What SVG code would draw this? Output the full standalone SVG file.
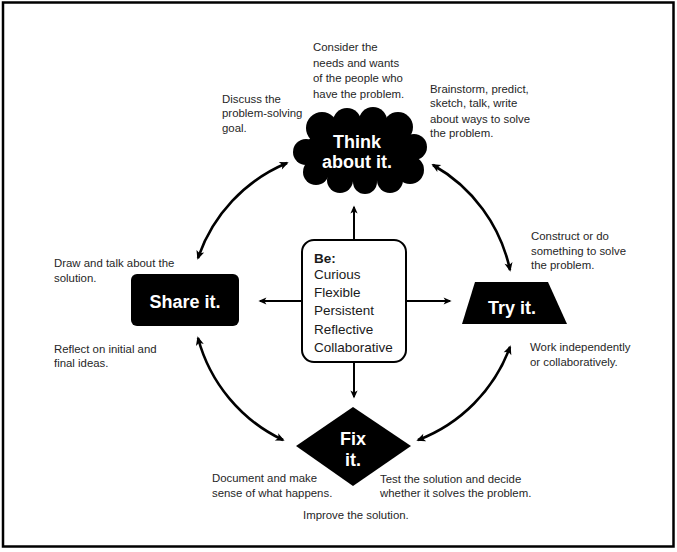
<svg xmlns="http://www.w3.org/2000/svg" width="677" height="552" viewBox="0 0 677 552">
<style>
  .t { font-family: "Liberation Sans", Arial, sans-serif; font-size: 11.4px; fill: #262626; }
  .be { font-family: "Liberation Sans", Arial, sans-serif; font-size: 13.5px; fill: #1a1a1a; }
  .lbl { font-family: "Liberation Sans", Arial, sans-serif; font-size: 18px; font-weight: bold; fill: #ffffff; text-anchor: middle; }
  .shape { fill: #000000; }
  .arc { fill: none; stroke: #000; stroke-width: 2.6; marker-start: url(#ah); marker-end: url(#ah); }
  .str { fill: none; stroke: #000; stroke-width: 2; marker-end: url(#ah2); }
</style>
<defs>
  <marker id="ah" viewBox="0 0 10 10" refX="8" refY="5" markerWidth="10" markerHeight="9" markerUnits="userSpaceOnUse" orient="auto-start-reverse">
    <path d="M0,0.5 L10,5 L0,9.5 L2.5,5 z" fill="#000"/>
  </marker>
  <marker id="ah2" viewBox="0 0 10 10" refX="8" refY="5" markerWidth="9" markerHeight="8" markerUnits="userSpaceOnUse" orient="auto">
    <path d="M0,0.5 L10,5 L0,9.5 L2.5,5 z" fill="#000"/>
  </marker>
</defs>
<rect x="0" y="0" width="677" height="552" fill="#fff"/>
<rect x="3" y="2.5" width="670.5" height="544" fill="none" stroke="#000" stroke-width="2.5"/>

<g id="connectors">
  <path class="arc" d="M198,258 A158,158 0 0 1 287,163"/>
  <path class="arc" d="M433,165 A158,158 0 0 1 510,270"/>
  <path class="arc" d="M510,347 A158,158 0 0 1 418,440"/>
  <path class="arc" d="M283,440 A158,158 0 0 1 198,338"/>
  <path class="str" d="M354,240 L354,207"/>
  <path class="str" d="M302,301 L260,301"/>
  <path class="str" d="M406,301 L450,301"/>
  <path class="str" d="M354,362 L354,397"/>
</g>

<g id="think">
  <g class="shape">
    <ellipse cx="360" cy="152" rx="56" ry="30"/>
    <circle cx="322" cy="128" r="16"/>
    <circle cx="347" cy="122" r="14"/>
    <circle cx="373" cy="121" r="14"/>
    <circle cx="398" cy="127" r="15"/>
    <circle cx="414" cy="147" r="13"/>
    <circle cx="410" cy="170" r="14"/>
    <circle cx="390" cy="180" r="13"/>
    <circle cx="365" cy="182" r="12"/>
    <circle cx="340" cy="180" r="13"/>
    <circle cx="316" cy="172" r="13"/>
    <circle cx="306" cy="152" r="13"/>
  </g>
  <text class="lbl" x="357" y="148">Think</text>
  <text class="lbl" x="357" y="168">about it.</text>
</g>

<g id="share">
  <rect class="shape" x="131" y="274" width="108" height="52" rx="6"/>
  <text class="lbl" x="185" y="308">Share it.</text>
</g>

<g id="try">
  <polygon class="shape" points="475,282 548,282 567,324 462,324"/>
  <text class="lbl" x="512" y="314">Try it.</text>
</g>

<g id="fix">
  <polygon class="shape" points="353,407 411,446 353,486 296,446"/>
  <text class="lbl" x="353" y="445">Fix</text>
  <text class="lbl" x="353" y="466">it.</text>
</g>

<g id="be">
  <rect x="302" y="240" width="104" height="122" rx="12" fill="#fff" stroke="#000" stroke-width="2"/>
  <text class="be" x="314" y="263" font-weight="bold">Be:</text>
  <text class="be" x="314" y="279">Curious</text>
  <text class="be" x="314" y="297">Flexible</text>
  <text class="be" x="314" y="315">Persistent</text>
  <text class="be" x="314" y="334">Reflective</text>
  <text class="be" x="314" y="352">Collaborative</text>
</g>

<g id="notes">
  <text class="t" x="313" y="51">Consider the</text>
  <text class="t" x="313" y="67">needs and wants</text>
  <text class="t" x="313" y="82">of the people who</text>
  <text class="t" x="313" y="98">have the problem.</text>

  <text class="t" x="222" y="103">Discuss the</text>
  <text class="t" x="222" y="117">problem-solving</text>
  <text class="t" x="222" y="132">goal.</text>

  <text class="t" x="430" y="93">Brainstorm, predict,</text>
  <text class="t" x="430" y="107">sketch, talk, write</text>
  <text class="t" x="430" y="123">about ways to solve</text>
  <text class="t" x="430" y="137">the problem.</text>

  <text class="t" x="54" y="267">Draw and talk about the</text>
  <text class="t" x="54" y="282">solution.</text>

  <text class="t" x="54" y="353">Reflect on initial and</text>
  <text class="t" x="54" y="367">final ideas.</text>

  <text class="t" x="531" y="240">Construct or do</text>
  <text class="t" x="531" y="255">something to solve</text>
  <text class="t" x="531" y="269">the problem.</text>

  <text class="t" x="530" y="351">Work independently</text>
  <text class="t" x="530" y="366">or collaboratively.</text>

  <text class="t" x="212" y="482">Document and make</text>
  <text class="t" x="212" y="497">sense of what happens.</text>

  <text class="t" x="380" y="483">Test the solution and decide</text>
  <text class="t" x="380" y="497">whether it solves the problem.</text>

  <text class="t" x="303" y="519">Improve the solution.</text>
</g>
</svg>
